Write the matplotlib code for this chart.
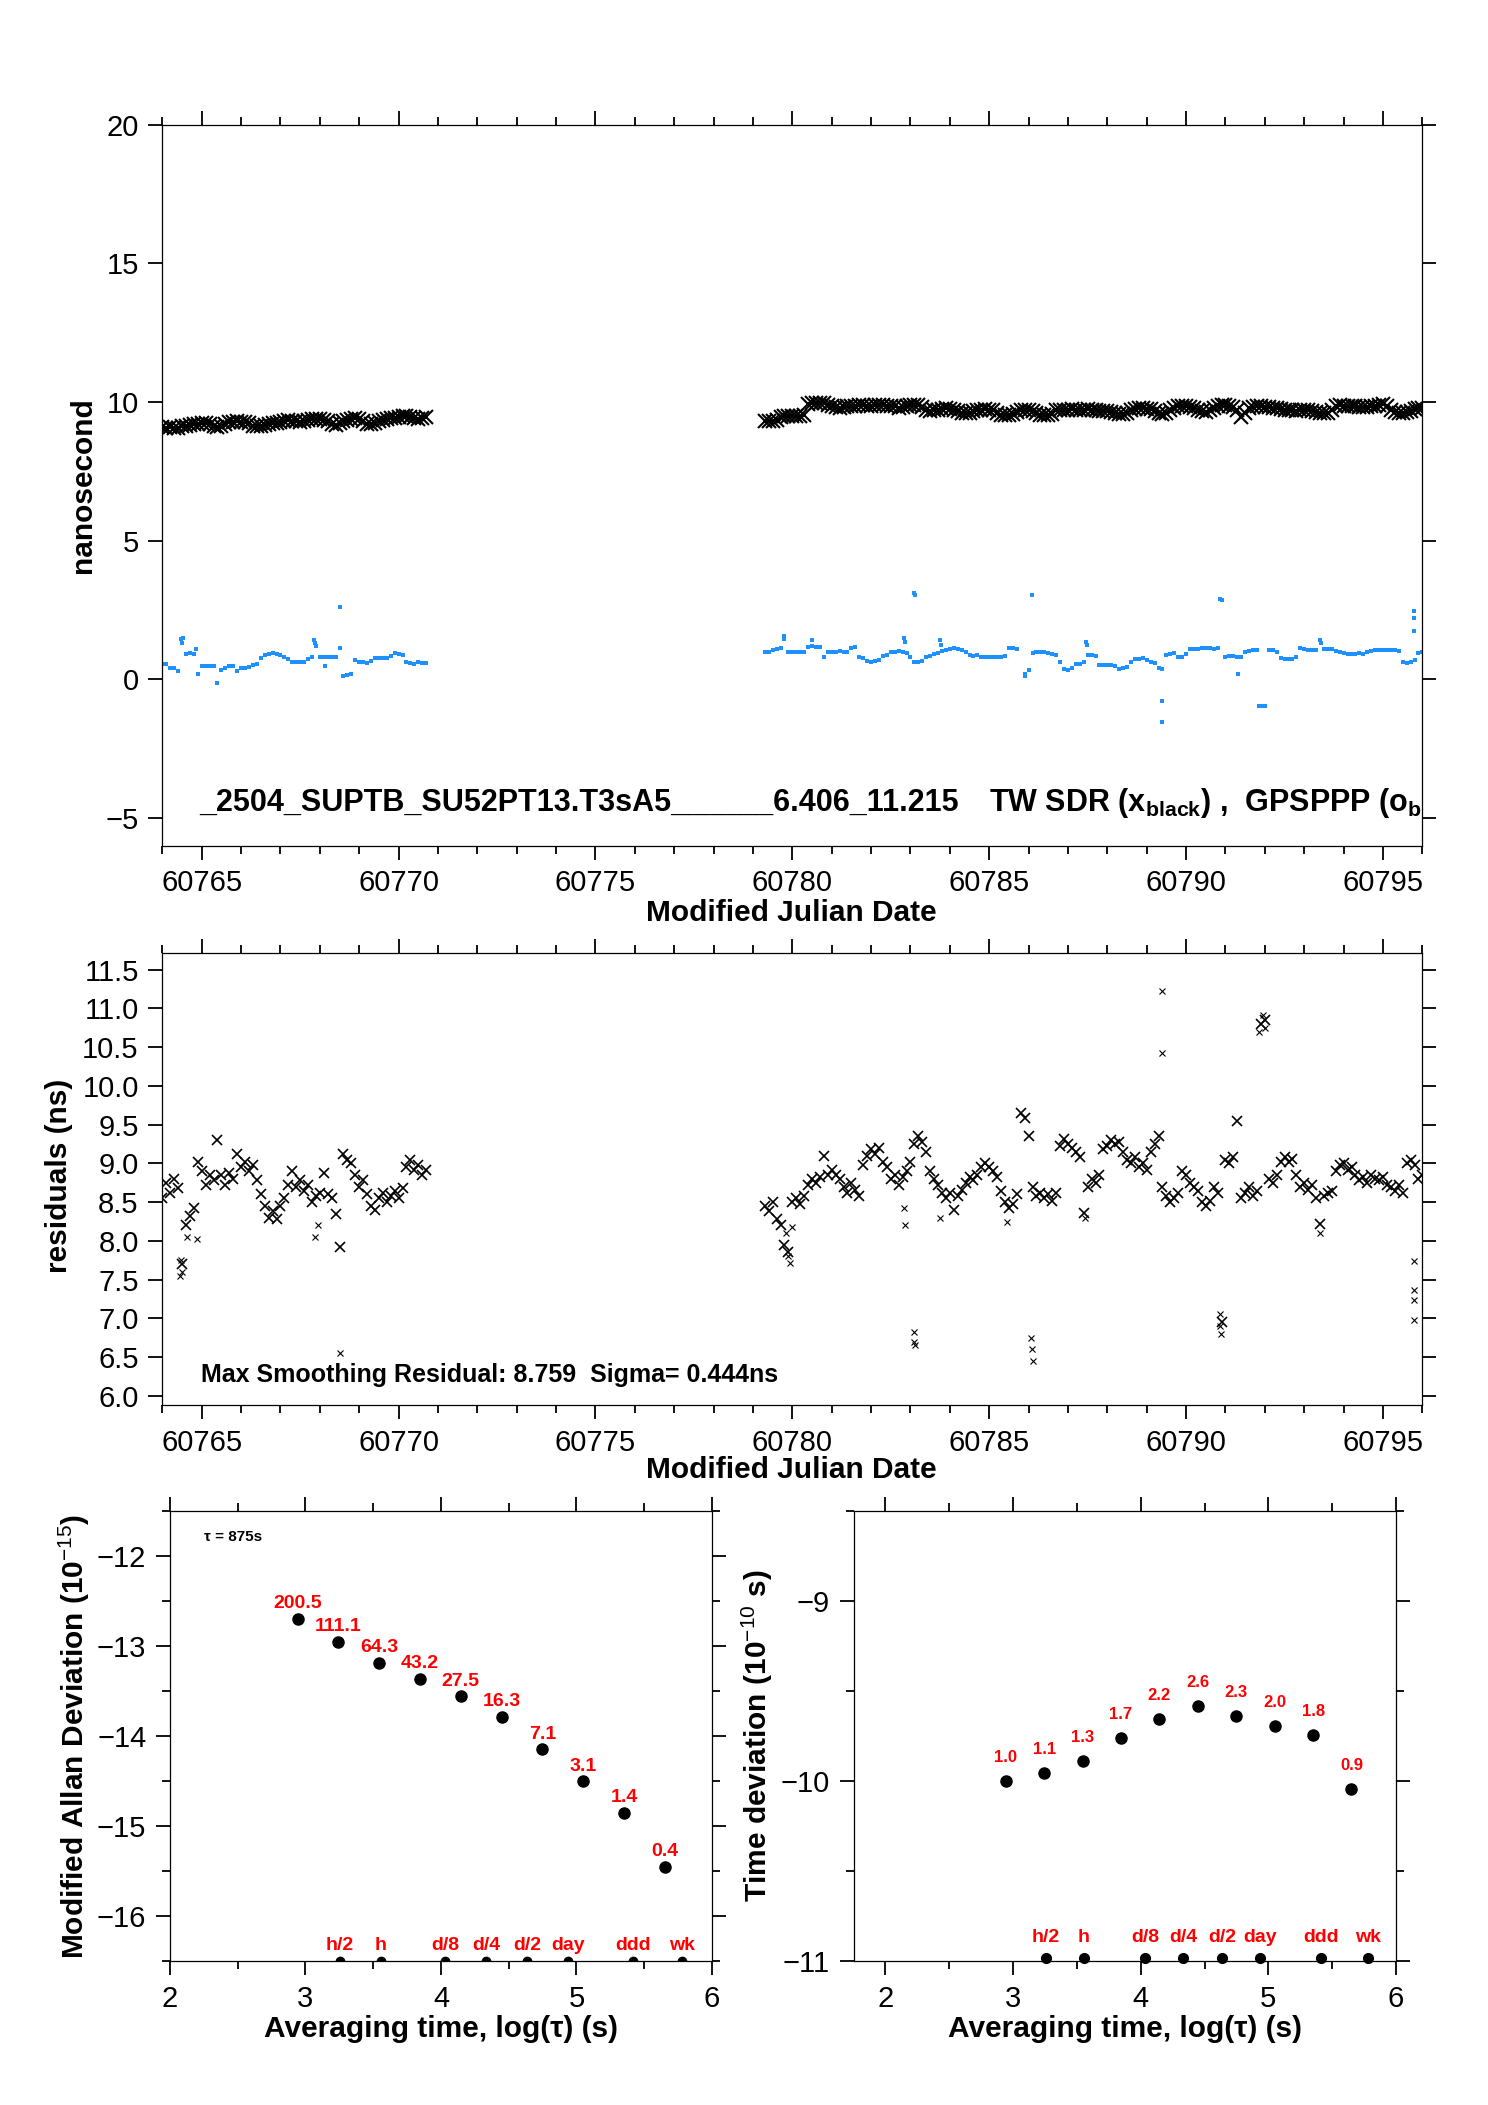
import numpy as np
import matplotlib
matplotlib.use("Agg")
import matplotlib.pyplot as plt
from matplotlib.ticker import MultipleLocator, FormatStrFormatter

plt.rcParams['font.family'] = ['Liberation Sans', 'DejaVu Sans']
plt.rcParams['mathtext.fontset'] = 'custom'
plt.rcParams['mathtext.rm'] = 'Liberation Sans'
plt.rcParams['mathtext.bf'] = 'Liberation Sans:bold'
plt.rcParams['mathtext.it'] = 'Liberation Sans:italic'

# ---------------- data ----------------
# segment 1 starts at MJD 60764.0, segment 2 at 60779.3, one sample per 0.1 day
start1 = 60764.0
start2 = 60779.3
step = 0.1

# TW SDR (black), ns
black1 = [9.10, 9.08, 9.10, 9.07, 9.08, 9.12, 9.14, 9.18, 9.20, 9.22,
          9.24, 9.25, 9.22, 9.15, 9.10, 9.14, 9.22, 9.27, 9.28, 9.30,
          9.29, 9.28, 9.24, 9.15, 9.12, 9.14, 9.18, 9.22, 9.25, 9.26,
          9.28, 9.32, 9.34, 9.33, 9.30, 9.27, 9.30, 9.36, 9.38, 9.40,
          9.38, 9.37, 9.30, 9.20, 9.18, 9.24, 9.30, 9.36, 9.40, 9.42,
          9.38, 9.30, 9.22, 9.20, 9.26, 9.32, 9.35, 9.38, 9.42, 9.44,
          9.46, 9.48, 9.50, 9.46, 9.42, 9.40, 9.42, 9.45]
black2 = [9.30, 9.32, 9.33, 9.35, 9.45, 9.48, 9.48, 9.50, 9.48, 9.50, 9.52,
          9.92, 9.95, 9.96, 9.98, 9.95, 9.90, 9.85, 9.82, 9.80, 9.82,
          9.84, 9.85, 9.86, 9.88, 9.88, 9.87, 9.86, 9.88, 9.90, 9.88,
          9.86, 9.85, 9.84, 9.80, 9.82, 9.85, 9.88, 9.90, 9.88, 9.82,
          9.72, 9.68, 9.70, 9.72, 9.75, 9.78, 9.76, 9.72, 9.66, 9.62,
          9.60, 9.62, 9.66, 9.72, 9.73, 9.74, 9.72, 9.70, 9.62, 9.55,
          9.52, 9.54, 9.58, 9.64, 9.70, 9.73, 9.72, 9.68, 9.60, 9.55,
          9.52, 9.52, 9.56, 9.70, 9.73, 9.72, 9.72, 9.74, 9.72, 9.70,
          9.72, 9.74, 9.73, 9.70, 9.68, 9.66, 9.66, 9.65, 9.62, 9.58,
          9.56, 9.60, 9.70, 9.76, 9.78, 9.78, 9.76, 9.74, 9.66, 9.60,
          9.58, 9.62, 9.72, 9.80, 9.85, 9.86, 9.85, 9.82, 9.78, 9.72,
          9.66, 9.64, 9.70, 9.80, 9.86, 9.88, 9.88, 9.86, 9.82, 9.72,
          9.45, 9.62, 9.78, 9.82, 9.84, 9.84, 9.82, 9.82, 9.80, 9.78,
          9.74, 9.72, 9.70, 9.70, 9.68, 9.70, 9.72, 9.70, 9.68, 9.64,
          9.62, 9.60, 9.62, 9.72, 9.84, 9.88, 9.87, 9.86, 9.85, 9.84,
          9.83, 9.82, 9.82, 9.84, 9.86, 9.90, 9.92, 9.85, 9.72, 9.64,
          9.62, 9.62, 9.64, 9.68, 9.74, 9.78, 9.80]

# GPSPPP (blue), ns
blue1 = [0.54, 0.54, 0.42, 0.40, 0.28, 1.30, 0.92, 0.93, 0.92, 0.20,
         0.47, 0.47, 0.46, 0.46, -0.15, 0.33, 0.42, 0.46, 0.47, 0.31,
         0.40, 0.42, 0.43, 0.50, 0.56, 0.75, 0.86, 0.90, 0.93, 0.90,
         0.86, 0.80, 0.72, 0.64, 0.62, 0.62, 0.64, 0.72, 0.80, 1.20,
         0.82, 0.80, 0.80, 0.80, 0.81, 1.13, 0.10, 0.17, 0.20, 0.70,
         0.62, 0.62, 0.60, 0.66, 0.75, 0.78, 0.76, 0.78, 0.85, 0.96,
         0.92, 0.88, 0.62, 0.58, 0.56, 0.62, 0.58, 0.58]
blue2 = [0.97, 0.97, 1.05, 1.10, 1.12, 1.55, 0.97, 0.97, 0.98, 0.97, 0.97,
         1.18, 1.20, 1.18, 1.16, 0.80, 0.98, 1.00, 1.00, 1.01, 1.00,
         0.98, 1.12, 1.15, 0.82, 0.75, 0.66, 0.64, 0.66, 0.70, 0.85,
         0.88, 0.98, 1.00, 1.02, 1.00, 0.95, 0.80, 0.62, 0.62, 0.66,
         0.80, 0.85, 0.90, 0.95, 1.02, 1.04, 1.08, 1.12, 1.10, 1.06,
         0.98, 0.88, 0.85, 0.86, 0.80, 0.80, 0.80, 0.81, 0.80, 0.82,
         0.85, 1.12, 1.13, 1.10, np.nan, 0.13, 0.32, 0.95, 1.00, 0.98,
         0.97, 0.95, 0.92, 0.88, 0.62, 0.36, 0.32, 0.40, 0.54, 0.56,
         0.62, 0.88, 0.86, 0.84, 0.50, 0.52, 0.52, 0.50, 0.46, 0.38,
         0.40, 0.45, 0.62, 0.72, 0.74, 0.76, 0.70, 0.62, 0.58, 0.42,
         0.38, 0.88, 0.92, 0.95, 0.80, 0.80, 0.90, 1.08, 1.10, 1.10,
         1.12, 1.12, 1.14, 1.10, 1.12, np.nan, 0.82, 0.83, 0.84, 0.80,
         0.82, 0.98, 1.02, 1.04, 1.06, np.nan, np.nan, 1.04, 1.05, 1.00,
         0.75, 0.73, 0.72, 0.73, 0.80, 1.13, 1.08, 1.04, 1.05, 1.06,
         1.40, 1.10, 1.08, 1.10, 1.02, 0.98, 0.96, 0.92, 0.90, 0.92,
         0.93, 0.92, 0.98, 1.02, 1.04, 1.06, 1.06, 1.06, 1.07, 1.06,
         1.02, 0.62, 0.60, 0.64, 0.70, 0.95, 0.98]
blue_out_mjd = [60764.48, 60764.52, 60764.85, 60767.85, 60767.88, 60768.12, 60768.50,
                60779.80, 60780.50, 60782.83, 60782.86, 60783.09, 60783.11, 60783.75,
                60783.77, 60785.90, 60786.08, 60787.45, 60787.47, 60789.40, 60789.40,
                60790.86, 60790.90, 60791.33, 60791.85, 60791.90, 60791.95, 60792.00,
                60793.42, 60795.78, 60795.78, 60795.78]
blue_out_ns = [1.45, 1.50, 1.10, 1.40, 1.30, 0.46, 2.60,
               1.45, 1.40, 1.50, 1.35, 3.10, 3.05, 1.40,
               1.25, 0.20, 3.04, 1.36, 1.25, -0.78, -1.54,
               2.90, 2.85, 0.19, -0.96, -0.96, -0.95, -0.96,
               1.30, 2.45, 2.21, 1.73]

# smoothing residuals, ns
resid1 = [8.55, 8.75, 8.62, 8.80, 8.68, 7.70, 8.20, 8.32, 8.42, 9.02,
          8.90, 8.72, 8.85, 8.78, 9.30, 8.85, 8.72, 8.88, 8.80, 9.12,
          8.95, 9.02, 8.90, 8.98, 8.78, 8.60, 8.45, 8.30, 8.38, 8.28,
          8.45, 8.55, 8.72, 8.90, 8.70, 8.78, 8.65, 8.72, 8.50, 8.58,
          8.62, 8.88, 8.60, 8.55, 8.35, 7.92, 9.12, 9.05, 9.00, 8.85,
          8.70, 8.78, 8.60, 8.45, 8.40, 8.55, 8.62, 8.50, 8.58, 8.65,
          8.55, 8.68, 8.95, 9.05, 8.92, 8.98, 8.85, 8.92]
resid2 = [8.45, 8.38, 8.50, 8.28, 8.20, 7.95, 7.85, 8.50, 8.55, 8.48, 8.58,
          8.72, 8.80, 8.75, 8.82, 9.10, 8.85, 8.92, 8.85, 8.80, 8.70,
          8.62, 8.75, 8.66, 8.58, 8.98, 9.10, 9.18, 9.12, 9.20, 9.02,
          8.95, 8.80, 8.85, 8.72, 8.82, 8.90, 9.02, 9.25, 9.35, 9.28,
          9.15, 8.90, 8.80, 8.72, 8.62, 8.55, 8.62, 8.40, 8.58, 8.66,
          8.75, 8.82, 8.78, 8.85, 8.95, 9.00, 8.95, 8.90, 8.82, 8.65,
          8.50, 8.42, 8.48, 8.60, 9.65, 9.58, 9.35, 8.70, 8.58, 8.62,
          8.55, 8.60, 8.52, 8.62, 9.22, 9.32, 9.25, 9.20, 9.15, 9.08,
          8.36, 8.70, 8.80, 8.75, 8.85, 9.18, 9.22, 9.30, 9.25, 9.28,
          9.15, 9.05, 9.00, 9.08, 8.95, 9.00, 8.92, 9.15, 9.25, 9.35,
          8.70, 8.58, 8.50, 8.55, 8.62, 8.90, 8.85, 8.75, 8.70, 8.65,
          8.50, 8.45, 8.52, 8.70, 8.62, 6.95, 9.05, 9.00, 9.08, 9.55,
          8.55, 8.62, 8.70, 8.58, 8.65, 10.80, 10.85, 8.80, 8.75, 8.85,
          9.02, 9.08, 9.02, 9.06, 8.85, 8.70, 8.75, 8.66, 8.72, 8.55,
          8.22, 8.58, 8.62, 8.65, 8.90, 8.98, 9.00, 8.92, 8.96, 8.85,
          8.78, 8.82, 8.75, 8.85, 8.80, 8.78, 8.82, 8.72, 8.70, 8.65,
          8.72, 8.62, 9.00, 9.05, 8.98, 8.80, 8.85]
resid_out_mjd = [60764.45, 60764.47, 60764.50, 60764.62, 60764.87, 60767.88, 60767.95, 60768.50,
                 60779.85, 60779.90, 60779.95, 60780.00, 60782.83, 60782.85, 60783.08, 60783.10,
                 60783.12, 60783.75, 60785.45, 60786.05, 60786.08, 60786.10, 60787.42, 60789.40,
                 60789.40, 60790.85, 60790.87, 60790.88, 60791.85, 60791.95, 60792.00, 60793.40,
                 60795.78, 60795.78, 60795.78, 60795.78]
resid_out_ns = [7.55, 7.75, 7.60, 8.05, 8.02, 8.05, 8.20, 6.55,
                8.10, 7.80, 7.72, 8.18, 8.42, 8.20, 6.82, 6.70,
                6.65, 8.30, 8.25, 6.75, 6.60, 6.45, 8.30, 11.22,
                10.43, 7.05, 6.90, 6.80, 10.70, 10.92, 10.75, 8.10,
                7.74, 7.37, 7.24, 6.98]

# stability
log_tau = [2.942, 3.243, 3.544, 3.845, 4.146, 4.447, 4.748, 5.049, 5.350, 5.651]
log_mdev = [-12.70, -12.955, -13.19, -13.365, -13.56, -13.79, -14.15, -14.505, -14.855, -15.455]
mdev_lbl = ['200.5', '111.1', '64.3', '43.2', '27.5', '16.3', '7.1', '3.1', '1.4', '0.4']
log_tdev = [-10.0, -9.955, -9.887, -9.762, -9.655, -9.583, -9.64, -9.695, -9.745, -10.045]
tdev_lbl = ['1.0', '1.1', '1.3', '1.7', '2.2', '2.6', '2.3', '2.0', '1.8', '0.9']
mark_pos = [3.255, 3.556, 4.033, 4.334, 4.635, 4.936, 5.414, 5.782]
mark_lbl = ['h/2', 'h', 'd/8', 'd/4', 'd/2', 'day', 'ddd', 'wk']

mjd1 = start1 + step * np.arange(len(black1))
mjd2 = start2 + step * np.arange(len(black2))


def frame(ax):
    ax.tick_params(which='both', direction='out', top=True, right=True,
                   width=1.3, labelsize=21, pad=7)
    ax.tick_params(which='major', length=10)
    ax.tick_params(which='minor', length=5.5)
    for s in ax.spines.values():
        s.set_linewidth(0.9)


fig = plt.figure(figsize=(14.88, 21.05), dpi=100)

# ---- time series ----
ax1 = fig.add_axes([0.1091, 0.5983, 0.8468, 0.3424])
ax1.plot(mjd1, black1, 'x', color='black', ms=9.5, mew=1.5)
ax1.plot(mjd2, black2, 'x', color='black', ms=9.5, mew=1.5)
ax1.plot(mjd1, blue1, 's', color='#1e90ff', ms=3.5, mew=0)
ax1.plot(mjd2, blue2, 's', color='#1e90ff', ms=3.5, mew=0)
ax1.plot(blue_out_mjd, blue_out_ns, 's', color='#1e90ff', ms=3.5, mew=0)
ax1.set_xlim(60764, 60796)
ax1.set_ylim(-6, 20)
ax1.xaxis.set_major_locator(MultipleLocator(5))
ax1.xaxis.set_minor_locator(MultipleLocator(1))
ax1.yaxis.set_major_locator(MultipleLocator(5))
ax1.xaxis.set_major_formatter(FormatStrFormatter('%d'))
frame(ax1)
ax1.text(0.0291, -4.75, '_2504_SUPTB_SU52PT13.T3sA5______6.406_11.215',
         transform=ax1.get_yaxis_transform(), fontsize=22, fontweight='bold',
         va='baseline', clip_on=True)
ax1.text(0.656, -4.75, r'TW SDR (x$_{\mathbf{black}}$) ,  GPSPPP (o$_{\mathbf{blue}}$)',
         transform=ax1.get_yaxis_transform(), fontsize=22, fontweight='bold',
         va='baseline', clip_on=True)
fig.text(0.0558, 0.7695, 'nanosecond', rotation=90, fontsize=21.5,
         fontweight='bold', ha='center', va='center')
fig.text(0.532, 0.5665, 'Modified Julian Date', fontsize=21.5,
         fontweight='bold', ha='center', va='center')

# ---- residuals ----
ax2 = fig.add_axes([0.1091, 0.3325, 0.8468, 0.2149])
ax2.plot(mjd1, resid1, 'x', color='black', ms=7.5, mew=1.2)
ax2.plot(mjd2, resid2, 'x', color='black', ms=7.5, mew=1.2)
ax2.plot(resid_out_mjd, resid_out_ns, 'x', color='black', ms=5, mew=0.8)
ax2.set_xlim(60764, 60796)
ax2.set_ylim(5.88, 11.72)
ax2.xaxis.set_major_locator(MultipleLocator(5))
ax2.xaxis.set_minor_locator(MultipleLocator(1))
ax2.yaxis.set_major_locator(MultipleLocator(0.5))
ax2.xaxis.set_major_formatter(FormatStrFormatter('%d'))
ax2.yaxis.set_major_formatter(FormatStrFormatter('%.1f'))
frame(ax2)
ax2.text(60764.98, 6.18, 'Max Smoothing Residual: 8.759  Sigma= 0.444ns',
         fontsize=18, fontweight='bold', va='baseline')
fig.text(0.0397, 0.4413, 'residuals (ns)', rotation=90, fontsize=21.5,
         fontweight='bold', ha='center', va='center')
fig.text(0.532, 0.3019, 'Modified Julian Date', fontsize=21.5,
         fontweight='bold', ha='center', va='center')

# ---- modified Allan deviation ----
ax3 = fig.add_axes([0.1142, 0.0684, 0.3643, 0.2138])
ax3.plot(log_tau, log_mdev, 'o', color='black', ms=8)
ax3.plot(mark_pos, [-16.505] * len(mark_pos), 'o', color='black', ms=6)
for x, y, t in zip(log_tau, log_mdev, mdev_lbl):
    ax3.annotate(t, (x, y), xytext=(0, 11), textcoords='offset points',
                 ha='center', va='center', color='red', fontsize=14, fontweight='bold')
for x, t in zip(mark_pos, mark_lbl):
    ax3.annotate(t, (x, -16.5), xytext=(0, 11), textcoords='offset points',
                 ha='center', va='center', color='red', fontsize=14, fontweight='bold')
ax3.set_xlim(2, 6)
ax3.set_ylim(-16.5, -11.5)
ax3.xaxis.set_major_locator(MultipleLocator(1))
ax3.xaxis.set_minor_locator(MultipleLocator(0.5))
ax3.yaxis.set_major_locator(MultipleLocator(1))
ax3.yaxis.set_minor_locator(MultipleLocator(0.5))
ax3.xaxis.set_major_formatter(FormatStrFormatter('%d'))
frame(ax3)
ax3.text(2.25, -11.79, 'τ = 875s', fontsize=11, fontweight='bold', va='center')
fig.text(0.0497, 0.1753, r'Modified Allan Deviation (10$^{\mathrm{-15}}$)', rotation=90,
         fontsize=21.5, fontweight='bold', ha='center', va='center')
fig.text(0.2964, 0.0361, 'Averaging time, log(τ) (s)', fontsize=21.5,
         fontweight='bold', ha='center', va='center')

# ---- time deviation ----
ax4 = fig.add_axes([0.5736, 0.0684, 0.3646, 0.2138])
ax4.plot(log_tau, log_tdev, 'o', color='black', ms=8)
ax4.plot(mark_pos, [-10.986] * len(mark_pos), 'o', color='black', ms=7, clip_on=False)
for x, y, t in zip(log_tau, log_tdev, tdev_lbl):
    ax4.annotate(t, (x, y), xytext=(0, 17), textcoords='offset points',
                 ha='center', va='center', color='red', fontsize=12, fontweight='bold')
for x, t in zip(mark_pos, mark_lbl):
    ax4.annotate(t, (x, -11), xytext=(0, 17), textcoords='offset points',
                 ha='center', va='center', color='red', fontsize=14, fontweight='bold')
ax4.set_xlim(1.75, 6)
ax4.set_ylim(-11, -8.5)
ax4.xaxis.set_major_locator(MultipleLocator(1))
ax4.xaxis.set_minor_locator(MultipleLocator(0.5))
ax4.yaxis.set_major_locator(MultipleLocator(1))
ax4.yaxis.set_minor_locator(MultipleLocator(0.5))
ax4.xaxis.set_major_formatter(FormatStrFormatter('%d'))
frame(ax4)
fig.text(0.5087, 0.1753, r'Time deviation (10$^{\mathrm{-10}}$ s)', rotation=90,
         fontsize=21.5, fontweight='bold', ha='center', va='center')
fig.text(0.7559, 0.0361, 'Averaging time, log(τ) (s)', fontsize=21.5,
         fontweight='bold', ha='center', va='center')

fig.savefig('out.png', dpi=100)
